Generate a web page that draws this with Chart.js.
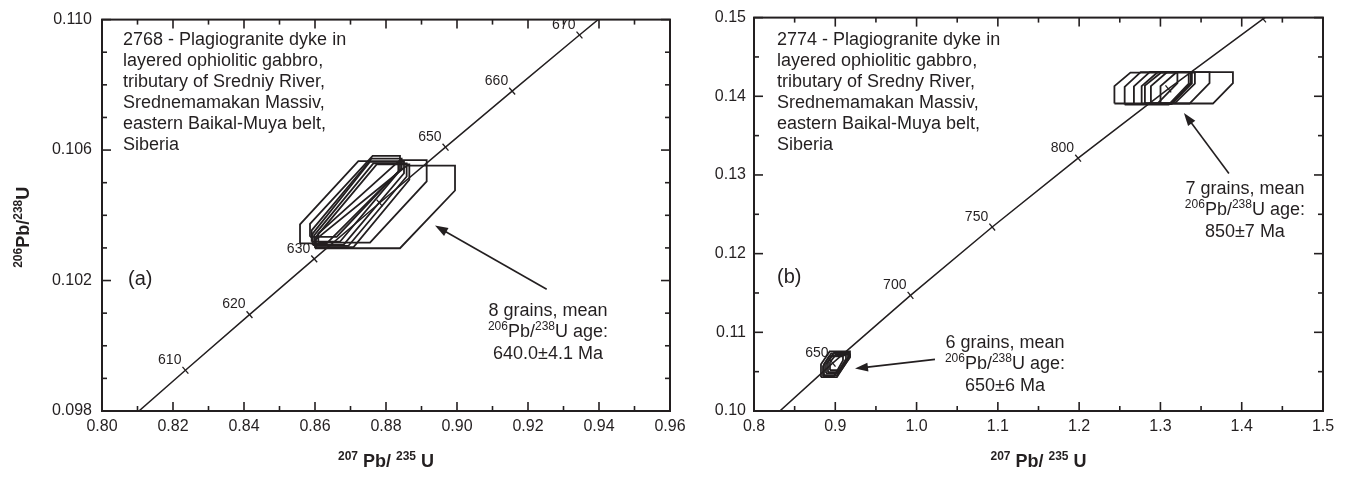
<!DOCTYPE html>
<html><head><meta charset="utf-8">
<script src="https://cdn.jsdelivr.net/npm/chart.js@4.4.1/dist/chart.umd.min.js"></script>
<style>
html,body{margin:0;padding:0;background:#fff;}
#wrap{position:relative;width:1348px;height:477px;overflow:hidden;background:#fff;}
canvas{position:absolute;top:0;}
</style></head><body>
<div id="wrap">
<canvas id="c1" width="700" height="477" style="left:0px"></canvas>
<canvas id="c2" width="648" height="477" style="left:700px"></canvas>
</div>
<script>
// ---------- DATA ----------
// Panel (a): concordia curve (age, 207Pb/235U, 206Pb/238U)
const agesA  = [600, 610, 620, 630, 640, 650, 660, 670, 680];
const pb207A = [0.80563, 0.82350, 0.84155, 0.85978, 0.87818, 0.89677, 0.91554, 0.93450, 0.95365];
const pb206A = [0.097544, 0.099248, 0.100955, 0.102664, 0.104376, 0.106089, 0.107807, 0.109527, 0.111249];
const tickAgesA  = [610, 620, 630, 640, 650, 660, 670];
const labelAgesA = [610, 620, 630, 650, 660, 670];
const xLabelsA = ['0.80','0.82','0.84','0.86','0.88','0.90','0.92','0.94','0.96'];
const yLabelsA = ['0.098','0.102','0.106','0.110'];
// grains: [x min, x max, y min, y max, y left-side top, x top-left, y right-side bottom, x bottom-right]
const grainsA = [
  [0.85578, 0.88347, 0.10314, 0.10566, 0.10372, 0.87221, 0.10534, 0.86329],
  [0.85859, 0.88394, 0.10334, 0.10582, 0.10374, 0.87624, 0.10539, 0.86610],
  [0.85934, 0.88507, 0.10309, 0.10564, 0.10344, 0.87549, 0.10529, 0.86798],
  [0.85981, 0.88582, 0.10306, 0.10559, 0.10339, 0.87643, 0.10519, 0.86939],
  [0.86028, 0.88657, 0.10302, 0.10556, 0.10334, 0.87737, 0.10509, 0.87080],
  [0.86094, 0.89146, 0.10316, 0.10569, 0.10344, 0.88394, 0.10504, 0.87549],
  [0.86000, 0.89944, 0.10299, 0.10552, 0.10324, 0.88582, 0.10476, 0.88394],
  [0.85906, 0.88441, 0.10319, 0.10574, 0.10354, 0.87596, 0.10544, 0.86704]
];

// Panel (b)
const agesB  = [600, 650, 700, 750, 800, 850, 900, 905];
const pb207B = [0.80563, 0.89677, 0.99251, 1.09308, 1.19873, 1.30971, 1.42630, 1.43827];
const pb206B = [0.097544, 0.106089, 0.114702, 0.123382, 0.132129, 0.140944, 0.149828, 0.150720];
const tickAgesB  = [650, 700, 750, 800, 850, 900];
const labelAgesB = [650, 700, 750, 800];
const xLabelsB = ['0.8','0.9','1.0','1.1','1.2','1.3','1.4','1.5'];
const yLabelsB = ['0.10','0.11','0.12','0.13','0.14','0.15'];
const grainsOldB = [
  [1.2434, 1.3209, 0.13908, 0.14300, 0.14129, 1.2631, 0.14167, 1.2963],
  [1.2560, 1.3348, 0.13895, 0.14306, 0.14120, 1.2757, 0.14160, 1.3102],
  [1.2674, 1.3372, 0.13900, 0.14310, 0.14125, 1.2871, 0.14170, 1.3126],
  [1.2769, 1.3387, 0.13905, 0.14306, 0.14130, 1.2966, 0.14165, 1.3141],
  [1.2809, 1.3424, 0.13912, 0.14300, 0.14135, 1.3006, 0.14160, 1.3178],
  [1.2883, 1.3604, 0.13908, 0.14306, 0.14129, 1.3080, 0.14167, 1.3358],
  [1.3001, 1.3892, 0.13908, 0.14306, 0.14129, 1.3198, 0.14167, 1.3646]
];
const grainsYoungB = [
  [0.88241, 0.91808, 0.104293, 0.107576, 0.10594, 0.89311, 0.10692, 0.90203],
  [0.88610, 0.91562, 0.104545, 0.107323, 0.10593, 0.89496, 0.10677, 0.90234],
  [0.88856, 0.91316, 0.104798, 0.107071, 0.10593, 0.89594, 0.10662, 0.90209],
  [0.89102, 0.91685, 0.104924, 0.107449, 0.10619, 0.89877, 0.10694, 0.90523],
  [0.88487, 0.90947, 0.104419, 0.106944, 0.10568, 0.89225, 0.10644, 0.89840],
  [0.89348, 0.91808, 0.105177, 0.107197, 0.10619, 0.90086, 0.10679, 0.90701]
];

const descA = ['2768 - Plagiogranite dyke in','layered ophiolitic gabbro,','tributary of Sredniy River,','Srednemamakan Massiv,','eastern Baikal-Muya belt,','Siberia'];
const descB = ['2774 - Plagiogranite dyke in','layered ophiolitic gabbro,','tributary of Sredny River,','Srednemamakan Massiv,','eastern Baikal-Muya belt,','Siberia'];

// ---------- STYLE ----------
const FONT = '"Liberation Sans", Arial, Helvetica, sans-serif';
const INK = '#231f20';

function concPoints(ages, xs, ys){ return ages.map((a,i)=>({x:xs[i], y:ys[i]})); }
function tickPoints(tAges, ages, xs, ys){ return tAges.map(a=>{const i=ages.indexOf(a); return {x:xs[i], y:ys[i]};}); }
function hexPts(g){ const [xL,xR,yB,yT,yLs,xTl,yRs,xBr]=g;
  return [{x:xL,y:yB},{x:xL,y:yLs},{x:xTl,y:yT},{x:xR,y:yT},{x:xR,y:yRs},{x:xBr,y:yB},{x:xL,y:yB}]; }
function grainSets(list){ return list.map(g=>({data:hexPts(g), showLine:true, borderColor:INK, borderWidth:1.8,
  pointRadius:0, fill:false, tension:0, borderJoinStyle:'miter'})); }
function labelFor(labels, v, step){ const s=labels.find(l=>Math.abs(parseFloat(l)-v)<step/10); return s||''; }

function drawRich(ctx, parts, x, y, align){
  let w=0;
  parts.forEach(p=>{ ctx.font=(p[3]?'bold ':'')+p[1]+'px '+FONT; w+=ctx.measureText(p[0]).width; });
  let cx = align==='center' ? x-w/2 : (align==='right'? x-w : x);
  ctx.textAlign='left'; ctx.textBaseline='alphabetic';
  parts.forEach(p=>{ ctx.font=(p[3]?'bold ':'')+p[1]+'px '+FONT; ctx.fillText(p[0], cx, y-p[2]); cx+=ctx.measureText(p[0]).width; });
}
function arrow(ctx, x1,y1,x2,y2){
  const ang=Math.atan2(y2-y1,x2-x1), L=13, H=4.5;
  ctx.beginPath(); ctx.moveTo(x1,y1); ctx.lineTo(x2-Math.cos(ang)*L*0.8, y2-Math.sin(ang)*L*0.8); ctx.stroke();
  ctx.beginPath(); ctx.moveTo(x2,y2);
  ctx.lineTo(x2-Math.cos(ang)*L-Math.sin(ang)*H, y2-Math.sin(ang)*L+Math.cos(ang)*H);
  ctx.lineTo(x2-Math.cos(ang)*L+Math.sin(ang)*H, y2-Math.sin(ang)*L-Math.cos(ang)*H);
  ctx.closePath(); ctx.fill();
}

const deco = {
  id:'deco',
  afterDraw(chart, args, o){
    const ctx=chart.ctx, xs=chart.scales.x, ys=chart.scales.y, a=chart.chartArea;
    const X=v=>xs.getPixelForValue(v), Y=v=>ys.getPixelForValue(v);
    ctx.save();
    ctx.strokeStyle=INK; ctx.fillStyle=INK; ctx.lineCap='butt';
    ctx.lineWidth=2;
    ctx.strokeRect(a.left, a.top, a.right-a.left, a.bottom-a.top);
    ctx.lineWidth=1.6;
    const seg=(x1,y1,x2,y2)=>{ctx.beginPath();ctx.moveTo(x1,y1);ctx.lineTo(x2,y2);ctx.stroke();};
    xs.ticks.forEach(t=>{const p=X(t.value), L=t.label?9:5; seg(p,a.bottom,p,a.bottom-L); seg(p,a.top,p,a.top+L);});
    ys.ticks.forEach(t=>{const p=Y(t.value), L=t.label?9:5; seg(a.left,p,a.left+L,p); seg(a.right,p,a.right-L,p);});
    ctx.font='14px '+FONT; ctx.textAlign='right'; ctx.textBaseline='middle';
    o.ageLabels.forEach(a2=>{const i=o.ages.indexOf(a2); ctx.fillText(String(a2), X(o.xs[i])-4, Y(o.ys[i])-10);});
    ctx.font='18px '+FONT; ctx.textAlign='left'; ctx.textBaseline='alphabetic';
    o.desc.forEach((s,i)=>ctx.fillText(s, a.left+o.descDx, o.descY+i*21));
    ctx.font='20px '+FONT;
    ctx.fillText(o.letter, a.left+o.letterDx, o.letterY);
    ctx.lineWidth=1.6;
    o.notes.forEach(n=>{
      const cx=X(n.at[0]), cy=Y(n.at[1]);
      drawRich(ctx, [[n.l1,18,0,false]], cx, cy+6.5, 'center');
      drawRich(ctx, [['206',12,7,false],['Pb/',18,0,false],['238',12,7,false],['U age:',18,0,false]], cx, cy+6.5+21.5, 'center');
      drawRich(ctx, [[n.l3,18,0,false]], cx, cy+6.5+43, 'center');
      arrow(ctx, X(n.tail[0]), Y(n.tail[1]), X(n.tip[0]), Y(n.tip[1]));
    });
    drawRich(ctx, [['207',12,7,true],[' Pb/ ',18,0,true],['235',12,7,true],[' U',18,0,true]], (a.left+a.right)/2, 467, 'center');
    if(o.yTitle){
      ctx.save(); ctx.translate(29, (a.top+a.bottom)/2+12); ctx.rotate(-Math.PI/2);
      drawRich(ctx, [['206',12,7,true],['Pb/',18,0,true],['238',12,7,true],['U',18,0,true]], 0, 0, 'center');
      ctx.restore();
    }
    ctx.restore();
  }
};

function makeChart(id, cfg){
  const conc = concPoints(cfg.ages, cfg.xs, cfg.ys);
  const ticks = tickPoints(cfg.tickAges, cfg.ages, cfg.xs, cfg.ys);
  const datasets = [
    {data:conc, showLine:true, borderColor:INK, borderWidth:1.5, pointRadius:0, tension:0},
    {data:ticks, showLine:false, pointStyle:'line', pointRadius:4.5, rotation:cfg.tickRot, borderColor:INK, borderWidth:1.3, backgroundColor:INK}
  ].concat(...cfg.grains.map(grainSets));
  return new Chart(document.getElementById(id), {
    type:'scatter',
    data:{datasets},
    options:{
      responsive:false, animation:false, devicePixelRatio:1,
      layout:{padding:{left:0, right:cfg.padRight, top:cfg.padTop, bottom:0}},
      plugins:{legend:{display:false}, tooltip:{enabled:false}, deco:cfg.deco},
      scales:{
        x:{type:'linear', min:cfg.xMin, max:cfg.xMax,
           grid:{display:false, drawTicks:false}, border:{display:false},
           ticks:{stepSize:cfg.xStep, autoSkip:false, maxRotation:0, padding:6, color:INK, font:{family:FONT,size:16},
             callback:v=>labelFor(cfg.xLabels, v, cfg.xStep)},
           afterFit:s=>{s.height=66;}},
        y:{type:'linear', min:cfg.yMin, max:cfg.yMax,
           grid:{display:false, drawTicks:false}, border:{display:false},
           ticks:{stepSize:cfg.yStep, autoSkip:false, padding:cfg.yPad, color:INK, font:{family:FONT,size:16},
             callback:v=>labelFor(cfg.yLabels, v, cfg.yStep)},
           afterFit:s=>{s.width=cfg.yWidth;}}
      }
    },
    plugins:[deco]
  });
}

makeChart('c1', {
  ages:agesA, xs:pb207A, ys:pb206A, tickAges:tickAgesA, tickRot:49, grains:[grainsA],
  xMin:0.80, xMax:0.96, xStep:0.01, xLabels:xLabelsA,
  yMin:0.098, yMax:0.110, yStep:0.001, yLabels:yLabelsA,
  padRight:30, padTop:12, yWidth:102, yPad:10,
  deco:{ages:agesA, xs:pb207A, ys:pb206A, ageLabels:labelAgesA, desc:descA, descDx:21, descY:45,
        letter:'(a)', letterDx:26, letterY:285, yTitle:true,
        notes:[{at:[0.92563,0.101124], l1:'8 grains, mean', l3:'640.0\u00b14.1 Ma', tail:[0.92527,0.101734], tip:[0.89380,0.103686]}]}
});

makeChart('c2', {
  ages:agesB, xs:pb207B, ys:pb206B, tickAges:tickAgesB, tickRot:50.5, grains:[grainsOldB, grainsYoungB],
  xMin:0.8, xMax:1.5, xStep:0.05, xLabels:xLabelsB,
  yMin:0.10, yMax:0.15, yStep:0.005, yLabels:yLabelsB,
  padRight:25, padTop:15, yWidth:54, yPad:8,
  deco:{ages:agesB, xs:pb207B, ys:pb206B, ageLabels:labelAgesB, desc:descB, descDx:23, descY:45,
        letter:'(b)', letterDx:23, letterY:283, yTitle:false,
        notes:[
          {at:[1.40394,0.128409], l1:'7 grains, mean', l3:'850\u00b17 Ma', tail:[1.38426,0.130177], tip:[1.32891,0.137879]},
          {at:[1.10873,0.108838], l1:'6 grains, mean', l3:'650\u00b16 Ma', tail:[1.02263,0.106566], tip:[0.92423,0.10539]}
        ]}
});
</script>
</body></html>
